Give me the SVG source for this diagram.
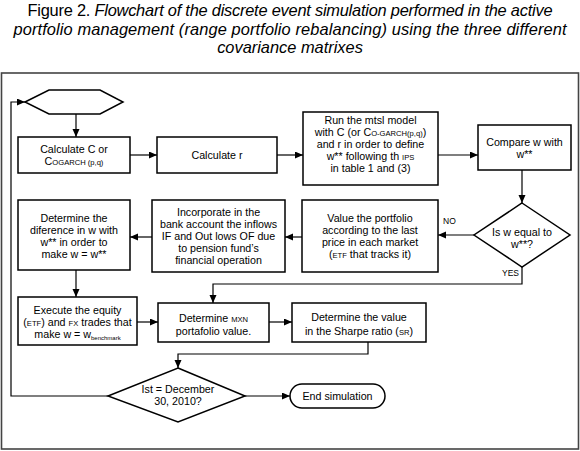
<svg xmlns="http://www.w3.org/2000/svg" width="580" height="451" viewBox="0 0 580 451">
<defs>
<marker id="ah" markerUnits="userSpaceOnUse" markerWidth="9" markerHeight="8" refX="8" refY="3.5" orient="auto">
<path d="M0,0 L8,3.5 L0,7 z" fill="#000"/>
</marker>
<style>
.title{font-family:"Liberation Sans",Arial,sans-serif;font-size:16.4px;fill:#000;text-anchor:middle}
.t{font-family:"Liberation Sans",Arial,sans-serif;font-size:10.7px;fill:#000;text-anchor:middle}
.s{font-size:7.6px}
.box{fill:#fff;stroke:#000;stroke-width:1.5}
.frame{fill:#fff;stroke:#444;stroke-width:1.6}
.ca{fill:none;stroke:#000;stroke-width:1.2;marker-end:url(#ah)}
.lbl{font-family:"Liberation Sans",Arial,sans-serif;font-size:8.5px;fill:#000}
</style>
</defs>
<rect width="580" height="451" fill="#fff"/>
<g id="title">
<text class="title" x="290" y="16" textLength="525" lengthAdjust="spacing"><tspan>Figure 2. </tspan><tspan font-style="italic">Flowchart of the discrete event simulation performed in the active</tspan></text>
<text class="title" x="290" y="34.5" font-style="italic" textLength="553" lengthAdjust="spacing">portfolio management (range portfolio rebalancing) using the three different</text>
<text class="title" x="290" y="53" font-style="italic">covariance matrixes</text>
</g>
<rect class="frame" x="1.5" y="73" width="577" height="376"/>
<g id="connectors">
<path class="ca" d="M108,396 H11 V102 H25"/>
<path class="ca" d="M76,114 V137"/>
<path class="ca" d="M130,155 H157"/>
<path class="ca" d="M277,155 H303"/>
<path class="ca" d="M438,155 H478"/>
<path class="ca" d="M522,170 V203"/>
<path class="ca" d="M474,235 H438"/>
<path class="ca" d="M302,237 H285"/>
<path class="ca" d="M152,237 H130"/>
<path class="ca" d="M76,270 V297"/>
<path class="ca" d="M522,267 V284 H213 V303"/>
<path class="ca" d="M137,322 H158"/>
<path class="ca" d="M269,322 H292"/>
<path class="ca" d="M368,342 V354 H178 V368"/>
<path class="ca" d="M245,396 H290"/>
<text class="lbl" x="443" y="224">NO</text>
<text class="lbl" x="502" y="276">YES</text>
</g>
<g id="start">
<polygon class="box" points="25,102 49,90 100,90 123,102 100,114 49,114"/>
</g>
<g id="calcC">
<rect class="box" x="18" y="137" width="112" height="36"/>
<text class="t" x="74" y="153">Calculate C or</text>
<text class="t" x="74" y="165">C<tspan class="s">OGARCH (p,q)</tspan></text>
</g>
<g id="calcR">
<rect class="box" x="157" y="137" width="120" height="36"/>
<text class="t" x="217" y="159">Calculate r</text>
</g>
<g id="mtsl">
<rect class="box" x="303" y="112" width="135" height="73"/>
<text class="t" x="370.5" y="124">Run the mtsl model</text>
<text class="t" x="370.5" y="136">with C (or C<tspan class="s">O-GARCH(p,q)</tspan>)</text>
<text class="t" x="370.5" y="148">and r in order to define</text>
<text class="t" x="370.5" y="160">w** following th <tspan class="s">IPS</tspan></text>
<text class="t" x="370.5" y="172">in table 1 and (3)</text>
</g>
<g id="compare">
<rect class="box" x="478" y="125" width="93" height="45"/>
<text class="t" x="524.5" y="146">Compare w with</text>
<text class="t" x="524.5" y="158">w**</text>
</g>
<g id="decision1">
<polygon class="box" points="522,203 570,235 522,267 474,235"/>
<text class="t" x="522" y="236">Is w equal to</text>
<text class="t" x="522" y="248">w**?</text>
</g>
<g id="value">
<rect class="box" x="302" y="200" width="136" height="72"/>
<text class="t" x="370" y="222">Value the portfolio</text>
<text class="t" x="370" y="234">according to the last</text>
<text class="t" x="370" y="246">price in each market</text>
<text class="t" x="370" y="258">(<tspan class="s">ETF</tspan> that tracks it)</text>
</g>
<g id="incorporate">
<rect class="box" x="152" y="200" width="133" height="72"/>
<text class="t" x="218.5" y="216">Incorporate in the</text>
<text class="t" x="218.5" y="228">bank account the inflows</text>
<text class="t" x="218.5" y="240">IF and Out lows OF due</text>
<text class="t" x="218.5" y="252">to pension fund’s</text>
<text class="t" x="218.5" y="264">financial operation</text>
</g>
<g id="difference">
<rect class="box" x="18" y="200" width="112" height="70"/>
<text class="t" x="74" y="222">Determine the</text>
<text class="t" x="74" y="234">diference in w with</text>
<text class="t" x="74" y="246">w** in order to</text>
<text class="t" x="74" y="258">make w = w**</text>
</g>
<g id="execute">
<rect class="box" x="18" y="297" width="119" height="48"/>
<text class="t" x="77.5" y="314">Execute the equity</text>
<text class="t" x="77.5" y="326">(<tspan class="s">ETF</tspan>) and <tspan class="s">FX</tspan> trades that</text>
<text class="t" x="77.5" y="338">make w = w<tspan font-size="6px" dy="1.5">benchmark</tspan></text>
</g>
<g id="mxn">
<rect class="box" x="158" y="303" width="111" height="39"/>
<text class="t" x="213.5" y="322">Determine <tspan class="s">MXN</tspan></text>
<text class="t" x="213.5" y="335">portafolio value.</text>
</g>
<g id="sharpe">
<rect class="box" x="292" y="303" width="134" height="39"/>
<text class="t" x="359" y="321">Determine the value</text>
<text class="t" x="359" y="335">in the Sharpe ratio (<tspan class="s">SR</tspan>)</text>
</g>
<g id="decision2">
<polygon class="box" points="178,368 245,396 178,422 108,396"/>
<text class="t" x="178" y="393" font-size="10px">Ist = December</text>
<text class="t" x="178" y="405" font-size="10px">30, 2010?</text>
</g>
<g id="end">
<rect class="box" x="290" y="384" width="95" height="24" rx="12" ry="12"/>
<text class="t" x="337.5" y="400">End simulation</text>
</g>
</svg>
